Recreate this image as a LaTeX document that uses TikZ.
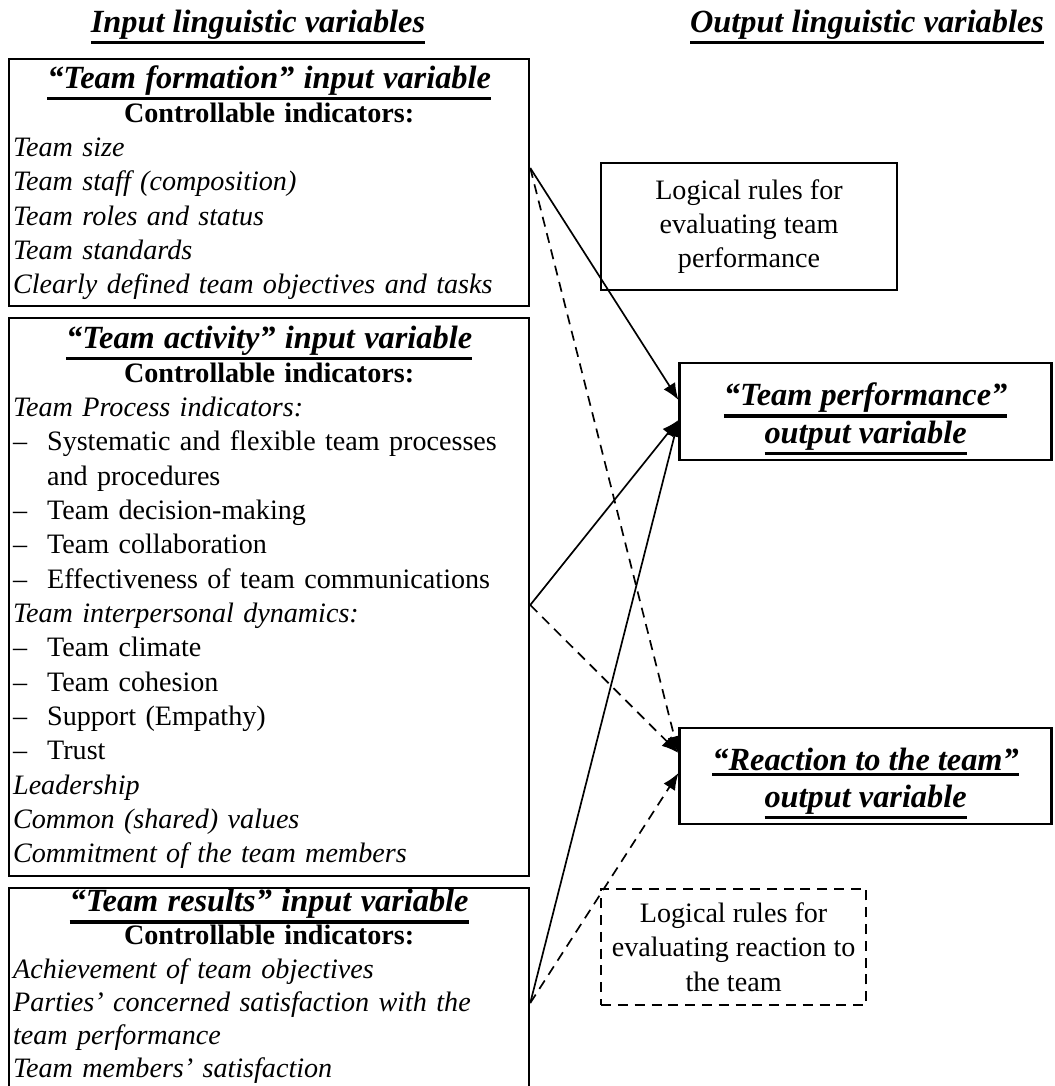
\documentclass[tikz,border=0pt]{standalone}
\usepackage{fontspec}
\setmainfont{Liberation Serif}
\usepackage{tikz}
\usetikzlibrary{arrows.meta, positioning}

\newcommand{\thickul}[1]{\vtop{\hbox{#1}\kern1.2pt\hrule height 2.4pt}}
\newcommand{\titlefont}{\fontsize{23}{24.4}\selectfont\bfseries\itshape}
\newcommand{\dashitem}[1]{\par\hangindent=0.85cm\hangafter=1\noindent\makebox[0.85cm][l]{–}#1}

\begin{document}
\begin{tikzpicture}[
    font=\fontsize{20}{24.4}\selectfont,
    inbox/.style={draw, line width=1.6pt, rectangle, anchor=north west, minimum width=13cm, text width=12.8cm, inner xsep=0.1cm, inner ysep=0.06cm},
    outbox/.style={draw, line width=1.6pt, rectangle, minimum width=9.3cm, minimum height=2.35cm, align=center},
    rulebox/.style={draw, line width=1.3pt, rectangle, align=center},
    arrow/.style={-{Latex[length=0.42cm, width=0.34cm]}, line width=1.2pt},
    dasharrow/.style={arrow, dash pattern=on 0.25cm off 0.17cm}
]
\useasboundingbox (0,0) rectangle (26.375,-27.15);
\clip (0,0) rectangle (26.375,-27.15);

% Headings
\node (inhead) at (6.45,-0.68) {\thickul{\titlefont Input linguistic variables}};
\node (outhead) at (21.675,-0.68) {\thickul{\titlefont Output linguistic variables}};

% Input variables
\node[inbox, minimum height=6.175cm] (formation) at (0.2,-1.45) {%
\centering\thickul{\titlefont “Team formation” input variable}\par
\textbf{Controllable indicators:}\par
\raggedright\itshape
Team size\par
Team staff (composition)\par
Team roles and status\par
Team standards\par
Clearly defined team objectives and tasks\par};

\node[inbox, minimum height=13.95cm] (activity) at (0.2,-7.925) {%
\centering\thickul{\titlefont “Team activity” input variable}\par
\textbf{Controllable indicators:}\par
\raggedright
\textit{Team Process indicators:}
\dashitem{Systematic and flexible team processes\newline and procedures}
\dashitem{Team decision-making}
\dashitem{Team collaboration}
\dashitem{Effectiveness of team communications}\par
\textit{Team interpersonal dynamics:}
\dashitem{Team climate}
\dashitem{Team cohesion}
\dashitem{Support (Empathy)}
\dashitem{Trust}\par
\textit{Leadership}\par
\textit{Common (shared) values}\par
\textit{Commitment of the team members}\par};

% bottom edge runs off the page
\node[inbox, inner ysep=0.03cm, font=\fontsize{20}{23.6}\selectfont] (results) at (0.2,-22.175) {%
\centering\thickul{\titlefont “Team results” input variable}\par
\textbf{Controllable indicators:}\par
\raggedright\itshape
Achievement of team objectives\par
Parties’ concerned satisfaction with the\par
team performance\par
Team members’ satisfaction\rule[-0.6cm]{0pt}{0.6cm}\par};

% Output variables
\node[outbox] (perf) at (21.64,-10.29) {\rule{0pt}{0.95cm}\thickul{\titlefont “Team performance”}\\[0.05cm] \thickul{\titlefont output variable}};
\node[outbox, minimum height=2.4cm] (react) at (21.64,-19.4) {\rule{0pt}{0.95cm}\thickul{\titlefont “Reaction to the team”}\\[0.05cm] \thickul{\titlefont output variable}};

% Logical rules
\node[rulebox, minimum width=7.4cm, minimum height=3.175cm] (perfrules) at (18.725,-5.66) {Logical rules for\\ evaluating team\\ performance};
\node[rulebox, dash pattern=on 0.25cm off 0.17cm, minimum width=6.625cm, minimum height=2.9cm] (reactrules) at (18.34,-23.675) {Logical rules for\\ evaluating reaction to\\ the team};

% Connectors
\coordinate (formation out) at ([yshift=-2.75cm]formation.north east);
\coordinate (activity out) at ([yshift=-7.2cm]activity.north east);
\coordinate (results out) at ([yshift=-2.9cm]results.north east);
\coordinate (perf in1) at ([yshift=0.29cm]perf.west);
\coordinate (perf in2) at ([yshift=-0.21cm]perf.west);
\coordinate (react in1) at ([yshift=0.575cm]react.west);
\coordinate (react in2) at ([yshift=0.075cm]react.west);

\draw[arrow] (formation out) -- (perf in1);
\draw[dasharrow] (formation out) -- (react in1);
\draw[arrow] (activity out) -- (perf in2);
\draw[dasharrow] (activity out) -- (react in1);
\draw[arrow] (results out) -- (perf in2);
\draw[dasharrow] (results out) -- (react in2);

\end{tikzpicture}
\end{document}
